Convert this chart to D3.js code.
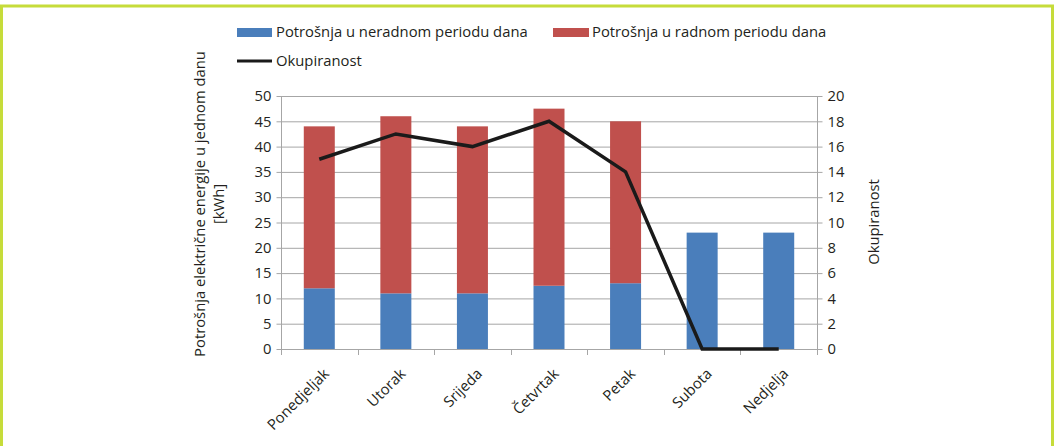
<!DOCTYPE html>
<html><head><meta charset="utf-8">
<script src="https://cdn.jsdelivr.net/npm/d3@7"></script>
<style>
body{margin:0;background:#fff;}
svg{display:block;font-family:"Open Sans",sans-serif;}
</style></head>
<body><svg id="c" width="1054" height="446"></svg>
<script>
const categories = ["Ponedjeljak","Utorak","Srijeda","Četvrtak","Petak","Subota","Nedjelja"];
const nonWorking = [12, 11, 11, 12.5, 13, 23, 23];
const working = [32, 35, 33, 35, 32, 0, 0];
const occupancy = [15, 17, 16, 18, 14, 0, 0];
const leftTicks = [0,5,10,15,20,25,30,35,40,45,50];
const rightTicks = [0,2,4,6,8,10,12,14,16,18,20];
const seriesNames = ["Potrošnja u neradnom periodu dana","Potrošnja u radnom periodu dana","Okupiranost"];
const leftTitle = ["Potrošnja električne energije u jednom danu","[kWh]"];
const rightTitle = "Okupiranost";

const svg = d3.select("#c");
const W = 1054, H = 446;
const plot = {l:281, r:817, t:96, b:349};
const blue = "#4a7ebb", red = "#c0504d", green = "#c6dc3a", txt = "#231f20";
const FS = "14.8px";

// border
svg.append("path").attr("d",`M1.5,${H} V6 H1052.5 V${H}`).attr("fill","none").attr("stroke",green).attr("stroke-width",3);

const xb = d3.scaleBand().domain(categories).range([plot.l, plot.r]);
const yL = d3.scaleLinear().domain([0,50]).range([plot.b, plot.t]);
const yR = d3.scaleLinear().domain([0,20]).range([plot.b, plot.t]);

// grid
svg.append("g").selectAll("line").data(leftTicks.filter(d=>d>0)).join("line")
  .attr("x1",plot.l).attr("x2",plot.r).attr("y1",d=>yL(d)+0.5).attr("y2",d=>yL(d)+0.5)
  .attr("stroke","#a6a6a6").attr("stroke-width",1);

// axes
const gL = svg.append("g").attr("transform",`translate(${plot.l+0.5},0)`)
  .call(d3.axisLeft(yL).tickValues(leftTicks).tickSize(5).tickPadding(5));
const gR = svg.append("g").attr("transform",`translate(${plot.r+0.5},0)`)
  .call(d3.axisRight(yR).tickValues(rightTicks).tickSize(5).tickPadding(5));
const gB = svg.append("g").attr("transform",`translate(0,${plot.b+0.5})`)
  .call(d3.axisBottom(xb).tickSize(0).tickFormat(""));
[gL,gR,gB].forEach(g=>{
  g.select(".domain").attr("stroke","#a6a6a6");
  g.selectAll(".tick line").attr("stroke","#a6a6a6");
  g.selectAll("text").attr("fill",txt).style("font-size",FS).style("font-family","'Open Sans',sans-serif");
});
gL.select(".domain").attr("d",`M0,${plot.t}V${plot.b}`);
gR.select(".domain").attr("d",`M0,${plot.t}V${plot.b}`);
gB.select(".domain").attr("d",`M${plot.l},0H${plot.r+0.5}`);
const bounds = categories.map(c=>xb(c)).concat([plot.r]);
svg.append("g").selectAll("line").data(bounds).join("line")
  .attr("x1",d=>Math.round(d)+0.5).attr("x2",d=>Math.round(d)+0.5)
  .attr("y1",plot.b).attr("y2",plot.b+6).attr("stroke","#a6a6a6");

// bars
const bw = 31;
const bars = svg.append("g");
categories.forEach((c,i)=>{
  const cx = xb(c)+xb.bandwidth()/2;
  bars.append("rect").attr("x",cx-bw/2).attr("width",bw)
    .attr("y",yL(nonWorking[i])).attr("height",yL(0)-yL(nonWorking[i])).attr("fill",blue);
  if(working[i]>0)
    bars.append("rect").attr("x",cx-bw/2).attr("width",bw)
      .attr("y",yL(nonWorking[i]+working[i])).attr("height",yL(nonWorking[i])-yL(nonWorking[i]+working[i])).attr("fill",red);
});

// line
const line = d3.line().x((d,i)=>xb(categories[i])+xb.bandwidth()/2).y(d=>yR(d));
svg.append("path").datum(occupancy).attr("d",line).attr("fill","none")
  .attr("stroke","#1a1a1a").attr("stroke-width",3.5).attr("stroke-linejoin","miter");

// x labels
svg.append("g").selectAll("text").data(categories).join("text")
  .attr("transform",c=>`translate(${xb(c)+xb.bandwidth()/2+7},${plot.b+22}) rotate(-45)`)
  .attr("text-anchor","end").attr("dy","0.35em")
  .attr("fill",txt).style("font-size",FS).text(d=>d);

// axis titles
const lt = svg.append("text").attr("transform",`translate(205,204) rotate(-90)`)
  .attr("text-anchor","middle").attr("fill",txt).style("font-size",FS);
lt.append("tspan").attr("x",0).attr("dy","0").text(leftTitle[0]);
lt.append("tspan").attr("x",0).attr("dy","19").text(leftTitle[1]);
svg.append("text").attr("transform",`translate(879,222) rotate(-90)`)
  .attr("text-anchor","middle").attr("fill",txt).style("font-size",FS).text(rightTitle);

// legend
const lg = svg.append("g").style("font-size",FS).attr("fill",txt);
lg.append("rect").attr("x",237).attr("y",28).attr("width",35).attr("height",9).attr("fill",blue);
lg.append("text").attr("x",276).attr("y",37).text(seriesNames[0]);
lg.append("rect").attr("x",553).attr("y",28).attr("width",36).attr("height",9).attr("fill",red);
lg.append("text").attr("x",592).attr("y",37).text(seriesNames[1]);
lg.append("line").attr("x1",237).attr("x2",272).attr("y1",61).attr("y2",61).attr("stroke","#1a1a1a").attr("stroke-width",3);
lg.append("text").attr("x",276).attr("y",66).text(seriesNames[2]);
</script></body></html>
